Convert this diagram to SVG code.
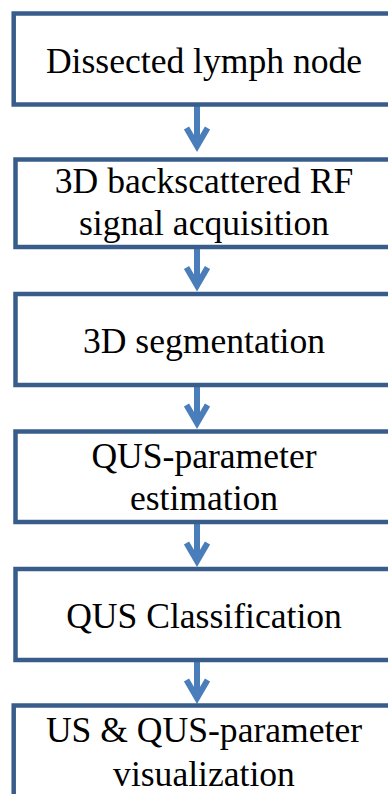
<svg xmlns="http://www.w3.org/2000/svg" width="388" height="794" viewBox="0 0 388 794">
<style>
.box{fill:#ffffff;stroke:#385D8A;stroke-width:4.5;stroke-linejoin:miter}
.lbl{font-family:"Liberation Serif","Times New Roman",serif;font-size:35.6px;fill:#000000;text-anchor:middle}
.conn{stroke:#4A7EBB;stroke-width:6;fill:none;marker-end:url(#chev)}
</style>
<defs>
<marker id="chev" markerUnits="userSpaceOnUse" viewBox="-25 -15 30 30" refX="0" refY="0" markerWidth="30" markerHeight="30" orient="auto" overflow="visible">
<path d="M-18,-10.5 L0,0 L-18,10.5" fill="none" stroke="#4A7EBB" stroke-width="6" stroke-linejoin="miter" stroke-linecap="butt"/>
</marker>
</defs>
<rect width="388" height="794" fill="#ffffff"/>
<g id="connectors">
<line class="conn" x1="197" y1="106" x2="197" y2="146"/>
<line class="conn" x1="197" y1="249" x2="197" y2="285.5"/>
<line class="conn" x1="197" y1="387" x2="197" y2="423"/>
<line class="conn" x1="197" y1="524" x2="197" y2="561"/>
<line class="conn" x1="197" y1="662" x2="197" y2="698"/>
</g>
<g id="node1">
<rect class="box" x="13.7" y="13.5" width="381" height="91"/>
<text class="lbl" x="204" y="73">Dissected lymph node</text>
</g>
<g id="node2">
<rect class="box" x="15.5" y="159.5" width="380" height="87.5"/>
<text class="lbl" x="204" y="193">3D backscattered RF</text>
<text class="lbl" x="204" y="235">signal acquisition</text>
</g>
<g id="node3">
<rect class="box" x="15.5" y="294" width="380" height="91"/>
<text class="lbl" x="204" y="353">3D segmentation</text>
</g>
<g id="node4">
<rect class="box" x="15.5" y="431.5" width="380" height="90.5"/>
<text class="lbl" x="204" y="468">QUS-parameter</text>
<text class="lbl" x="204" y="510">estimation</text>
</g>
<g id="node5">
<rect class="box" x="15.5" y="569" width="380" height="91"/>
<text class="lbl" x="204" y="628">QUS Classification</text>
</g>
<g id="node6">
<rect class="box" x="13.7" y="705.5" width="381" height="95"/>
<text class="lbl" x="204" y="742">US &amp; QUS-parameter</text>
<text class="lbl" x="204" y="786">visualization</text>
</g>
</svg>
